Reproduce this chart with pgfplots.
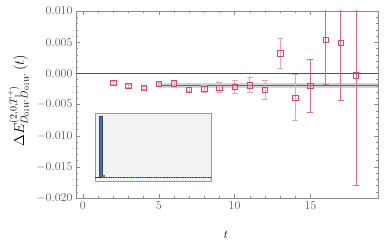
\documentclass[border=0pt]{standalone}
\usepackage{pgfplots}
\pgfplotsset{compat=1.18}
\definecolor{mk}{rgb}{0.82,0.30,0.42}
\definecolor{ebl}{rgb}{0.92,0.64,0.72}
\definecolor{ebd}{rgb}{0.84,0.42,0.52}
\definecolor{bblue}{rgb}{0.29,0.42,0.64}
\begin{document}
\begin{tikzpicture}
\path[use as bounding box] (-76pt,-50pt) rectangle (314pt,198pt);
\begin{axis}[
  scale only axis, width=302pt, height=187pt,
  xmin=-0.45, xmax=19.45, ymin=-0.02, ymax=0.01,
  xtick={0,5,10,15}, minor x tick num=4,
  ytick={-0.02,-0.015,-0.01,-0.005,0,0.005,0.01}, minor y tick num=4,
  yticklabel style={/pgf/number format/fixed,/pgf/number format/precision=3,/pgf/number format/fixed zerofill},
  scaled y ticks=false,
  tick label style={font=\fontsize{12}{14}\selectfont, text=black!65},
  axis line style={black!45},
  major tick style={black!45}, minor tick style={black!45},
  major tick length=4pt, minor tick length=2.4pt,
  tick align=inside,
  xlabel={$t$}, ylabel={$\Delta E^{(2,0,T_1^+)}_{D_{01W}D_{01W}}\,(t)$},
  xlabel style={font=\fontsize{12}{14}\selectfont, at={(axis description cs:0.497,-0.198)}, anchor=center},
  ylabel style={font=\fontsize{14.5}{17}\selectfont, at={(axis description cs:-0.19,0.52)}, anchor=center},
  clip=true,
]
\addplot[black!70, line width=0.9pt, forget plot] coordinates {(-0.45,0) (19.45,0)};
\addplot[black!25, line width=5pt, opacity=0.7, forget plot] coordinates {(5,-0.0020) (19.45,-0.0020)};
\addplot[black!60, line width=1.2pt, forget plot] coordinates {(5,-0.0020) (19.45,-0.0020)};
\addplot[only marks, mark=square, mark size=2.7pt, mark options={mk, line width=0.6pt},
  error bars/.cd, y dir=both, y explicit, error bar style={ebl, line width=0.7pt},
  error mark options={rotate=90, mark size=3pt, ebl, line width=0.7pt}]
  table[x=t, y=y, y error=e] {
t y e
2 -0.0015 0.0002
3 -0.0020 0.0002
4 -0.0023 0.0002
5 -0.0017 0.0003
6 -0.0016 0.0003
7 -0.0026 0.0003
8 -0.0025 0.0005
9 -0.0023 0.0008
10 -0.0022 0.0010
11 -0.0019 0.0012
12 -0.0026 0.0015
13 0.0032 0.0024
14 -0.0039 0.0037
};
\addplot[only marks, mark=square, mark size=2.7pt, mark options={mk, line width=0.6pt},
  error bars/.cd, y dir=both, y explicit, error bar style={ebd, line width=0.7pt},
  error mark options={rotate=90, mark size=3pt, ebd, line width=0.7pt}]
  table[x=t, y=y, y error=e] {
t y e
15 -0.0020 0.0042
16 0.0054 0.0072
17 0.0049 0.0093
18 -0.0003 0.0177
};
\end{axis}
\begin{axis}[
  at={(19pt,17pt)}, anchor=south west,
  scale only axis, width=116pt, height=68pt,
  xmin=0, xmax=116, ymin=-0.055, ymax=1.05,
  axis background/.style={fill=black!5},
  axis line style={black!40, line width=0.8pt},
  xtick=\empty, ytick=\empty,
]
\addplot[ybar, bar width=3pt, bar shift=0pt, fill=bblue, draw=bblue!70!black] coordinates {(5.8,1)};
\addplot[black!80, line width=0.8pt] coordinates {(0,0) (116,0)};
\addplot[orange!80!black, densely dotted, line width=0.8pt] coordinates {(8,0) (116,0)};
\addplot[only marks, mark=square*, mark size=1.2pt, orange!70!black] coordinates {(8.3,0.02)};
\end{axis}
\end{tikzpicture}
\end{document}
